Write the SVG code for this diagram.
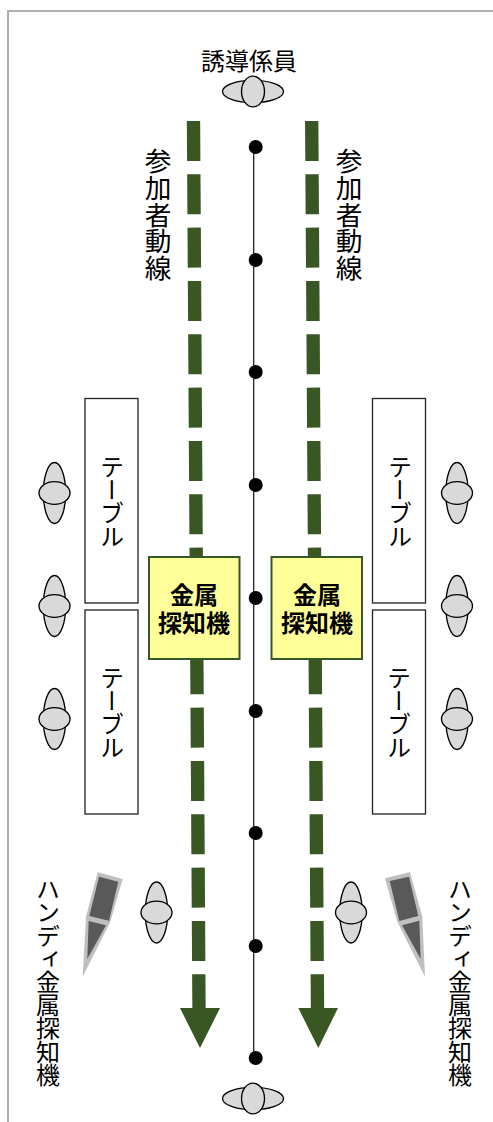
<svg xmlns="http://www.w3.org/2000/svg" width="493" height="1122" viewBox="0 0 493 1122">
<style>
text{font-family:"Noto Sans CJK JP","Noto Sans CJK SC",sans-serif;fill:#000}
.v{writing-mode:vertical-rl;text-anchor:start;font-size:24px}
.k{letter-spacing:-1px}
.vb{font-size:26.67px}
.b{font-size:24px;font-weight:700;text-anchor:middle}
.e{fill:#d9d9d9;stroke:#000;stroke-width:1.33}
.t{fill:#fff;stroke:#262626;stroke-width:1.33}
.d{fill:#ffff99;stroke:#385723;stroke-width:2}
.path{fill:none;stroke:#385723;stroke-width:13.33;stroke-dasharray:40 13.33}
.head{fill:#385723}
.h1{fill:#bfbfbf}
.h2{fill:#595959}
</style>
<defs>
<g id="pv"><ellipse class="e" cx="0" cy="0" rx="11.2" ry="30.5"/><ellipse class="e" cx="0" cy="0" rx="15.5" ry="11.3"/></g>
<g id="ph"><ellipse class="e" cx="0" cy="0" rx="30.5" ry="11.2"/><ellipse class="e" cx="0" cy="0" rx="11.5" ry="15.3"/></g>
</defs>
<path id="frame" d="M493 11H8V1122" fill="none" stroke="#afafaf" stroke-width="2"/>
<g id="connectors">
<path d="M253.700 147V1058" stroke="#262626" stroke-width="1.33" fill="none"/>
<g fill="#000"><circle cx="255.700" cy="147" r="7"/><circle cx="255.700" cy="260" r="7"/><circle cx="255.700" cy="372" r="7"/><circle cx="255.700" cy="485" r="7"/><circle cx="255.700" cy="598" r="7"/><circle cx="255.700" cy="711" r="7"/><circle cx="255.700" cy="833" r="7"/><circle cx="255.700" cy="946" r="7"/><circle cx="255.700" cy="1058" r="7"/></g>
<path class="path" d="M193.500 121L199 1008"/>
<polygon class="head" points="180,1008 220,1008 200,1048"/>
<path class="path" d="M311.700 121L317.500 1008"/>
<polygon class="head" points="298.300,1008 338,1008 318.300,1048"/>
</g>
<g id="guide-top"><use href="#ph" x="253" y="91.500"/><text x="249" y="70" font-size="24" text-anchor="middle">誘導係員</text></g>
<g id="guide-bottom"><use href="#ph" x="253" y="1098.500"/></g>
<g id="label-left"><text class="v vb" x="158" y="148">参加者動線</text></g>
<g id="label-right"><text class="v vb" x="349" y="148">参加者動線</text></g>
<g id="table-l1"><rect class="t" x="85" y="398.500" width="53" height="204.500"/><text class="v k" x="112" y="455">テーブル</text></g>
<g id="table-l2"><rect class="t" x="85" y="610" width="53" height="204"/><text class="v k" x="112" y="666">テーブル</text></g>
<g id="table-r1"><rect class="t" x="372.500" y="398.500" width="53" height="204.500"/><text class="v k" x="400" y="455">テーブル</text></g>
<g id="table-r2"><rect class="t" x="372.500" y="610" width="53" height="204"/><text class="v k" x="399" y="666">テーブル</text></g>
<g id="detector-l"><rect class="d" x="149" y="557" width="90.500" height="102"/><text class="b" x="194" y="604">金属<tspan x="194" dy="28">探知機</tspan></text></g>
<g id="detector-r"><rect class="d" x="271.500" y="557" width="90.500" height="102"/><text class="b" x="317" y="604">金属<tspan x="317" dy="28">探知機</tspan></text></g>
<g id="staff-l1"><use href="#pv" x="54.500" y="493"/></g>
<g id="staff-l2"><use href="#pv" x="54.500" y="606"/></g>
<g id="staff-l3"><use href="#pv" x="54.500" y="719"/></g>
<g id="staff-r1"><use href="#pv" x="457" y="493"/></g>
<g id="staff-r2"><use href="#pv" x="457" y="606"/></g>
<g id="staff-r3"><use href="#pv" x="457" y="719"/></g>
<g id="staff-h1"><use href="#pv" x="156.500" y="912.500"/></g>
<g id="staff-h2"><use href="#pv" x="351" y="912.500"/></g>
<g id="wand-l"><polygon class="h1" points="97.700,872.300 122.700,879 110.300,921.700 82.700,976.700 86,916.700"/><polygon class="h2" points="99,876.700 118.300,881.700 109,920.700 89.300,916"/><polygon class="h2" points="88.700,921 106,925.300 87.300,959"/><text class="v" x="48" y="877" style="letter-spacing:-.8px">ハンディ金属探知機</text></g>
<g id="wand-r"><polygon class="h1" points="385,878.300 410,872 422.300,916.700 425,976.700 397.300,921.700"/><polygon class="h2" points="389.700,881 409,876.700 418.300,916 399.300,921"/><polygon class="h2" points="402,925.300 419.300,920.700 420.700,959"/><text class="v" x="460" y="877" style="letter-spacing:-.8px">ハンディ金属探知機</text></g>
</svg>
